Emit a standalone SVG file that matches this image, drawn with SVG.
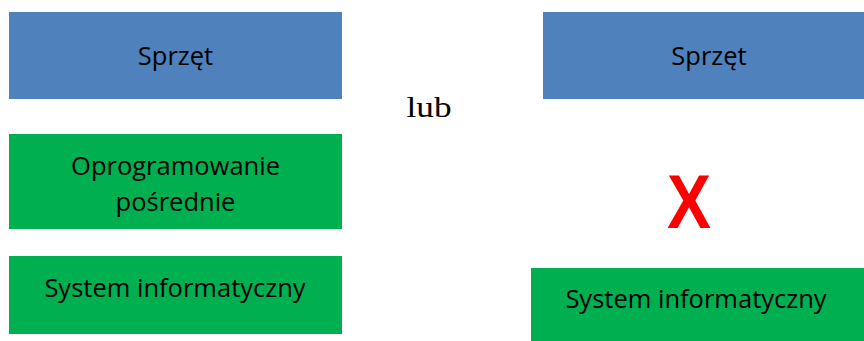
<svg xmlns="http://www.w3.org/2000/svg" width="864" height="341" viewBox="0 0 864 341">
<style>
.blue{fill:#4F81BD}
.green{fill:#00B050}
.lbl{font-family:"Open Sans","Noto Sans",sans-serif;font-size:25.5px;fill:#000;text-anchor:middle}
</style>
<rect width="864" height="341" fill="#fff"/>
<g id="sprzet-left"><rect class="blue" x="9" y="12" width="333" height="87"/><text class="lbl" x="175.5" y="65">Sprzęt</text></g>
<g id="oprogramowanie"><rect class="green" x="9" y="134" width="333" height="95"/><text class="lbl" x="175.5" y="175">Oprogramowanie</text><text class="lbl" x="175.5" y="210.5">pośrednie</text></g>
<g id="system-left"><rect class="green" x="9" y="256" width="333" height="78"/><text class="lbl" x="175" y="297">System informatyczny</text></g>
<g id="lub"><text x="429" y="117" font-family="Liberation Serif,serif" font-size="30" text-anchor="middle" textLength="45" lengthAdjust="spacingAndGlyphs">lub</text></g>
<g id="sprzet-right"><rect class="blue" x="543" y="12" width="321" height="87"/><text class="lbl" x="709" y="65">Sprzęt</text></g>
<g id="x-mark"><text x="689" y="228" font-family="Liberation Sans,Arial,sans-serif" font-weight="bold" font-size="76" fill="#FF0000" text-anchor="middle" textLength="44" lengthAdjust="spacingAndGlyphs">X</text></g>
<g id="system-right"><rect class="green" x="531" y="268" width="333" height="73"/><text class="lbl" x="696" y="308">System informatyczny</text></g>
<g id="connectors"/>
</svg>
